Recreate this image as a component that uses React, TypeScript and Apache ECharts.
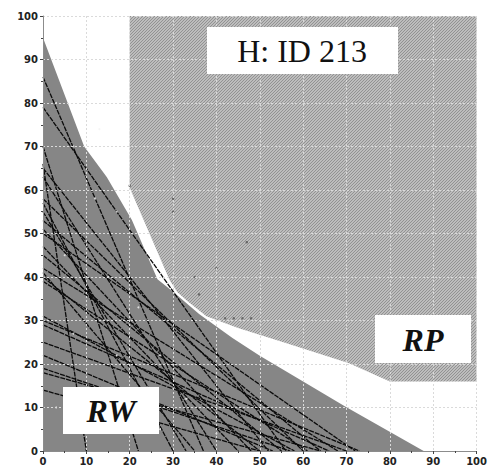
import React, { useEffect, useRef } from "react";
import * as echarts from "echarts";

// tick labels
const tickValues = [0, 10, 20, 30, 40, 50, 60, 70, 80, 90, 100];

// RP region boundary (x, y)
const rpBoundary: [number, number][] = [
  [20, 100], [100, 100], [100, 16], [80, 16], [70.6, 20.2], [56, 24.8],
  [45, 28.3], [37.7, 31], [33.5, 34.3], [31, 36.5], [29.2, 39.3], [20, 60.5],
];

// RW region boundary (x, y)
const rwBoundary: [number, number][] = [
  [0, 0], [0, 95], [9.5, 70], [14.7, 63], [20.5, 53.1], [26.4, 39.5],
  [30, 36.6], [36, 31.5], [43.7, 26], [50, 21.9], [69.9, 10.1], [87.8, 0],
];

// budget lines: [y-intercept, x-intercept]
const budgetLines: [number, number][] = [
  [86, 37], [79, 56], [70, 22], [66, 10], [65, 52], [63, 40], [58, 60],
  [55, 33], [53, 64], [51, 48], [50, 72], [45, 55], [42, 68], [41, 35],
  [40, 50], [39, 61], [31, 58], [30, 73], [29, 66], [25, 70], [22, 53],
  [19, 57], [18, 64], [14, 50], [57, 30], [47, 45],
];

// small dots
const rwDots: [number, number][] = [
  [3, 80], [7, 70], [12, 58], [17, 55], [5, 45], [15, 40], [22, 33], [7, 27],
  [17, 22], [27, 22], [3, 10], [12, 8], [27, 5], [33, 12], [40, 4], [13, 74],
];
const rpDots: [number, number][] = [
  [30, 58], [30, 55], [30, 50], [35, 40], [40, 42], [47, 48], [36, 36],
  [42, 30.5], [44, 30.5], [46, 30.5], [48, 30.5], [20, 61],
];

function makePattern() {
  const n = 3;
  const c = document.createElement("canvas");
  c.width = n;
  c.height = n;
  const ctx = c.getContext("2d")!;
  ctx.fillStyle = "#bdbdbd";
  ctx.fillRect(0, 0, n, n);
  ctx.fillStyle = "#929292";
  for (let y = 0; y < n; y++) {
    const x = (n - 1 - y + n) % n;
    ctx.fillRect(x, y, 1, 1);
  }
  return { image: c, repeat: "repeat", imageWidth: n, imageHeight: n };
}

export default function App() {
  const ref = useRef<HTMLDivElement>(null);
  useEffect(() => {
    const chart = echarts.init(ref.current!, null, { renderer: "svg" });
    const pattern = makePattern();
    const axisCommon = {
      type: "value",
      min: 0,
      max: 100,
      interval: 10,
      z: 5,
      axisLine: { show: true, onZero: false, lineStyle: { color: "#8c8c8c", width: 1 } },
      axisTick: { show: true, length: 3, lineStyle: { color: "#444" } },
      minorTick: { show: true, splitNumber: 2, length: 2, lineStyle: { color: "#444" } },
      axisLabel: {
        fontFamily: "DejaVu Sans",
        fontWeight: "bold",
        fontSize: 10,
        color: "#222",
        margin: 5,
        formatter: (v: number) => (tickValues.includes(v) ? String(v) : ""),
      },
      splitLine: { show: true, lineStyle: { color: "#dadada", type: [2, 2], width: 1 } },
    };
    const box = (x: number, y: number, w: number, h: number) => ({
      type: "rect",
      z: 100,
      shape: { x, y, width: w, height: h },
      style: { fill: "#ffffff" },
    });
    const label = (x: number, y: number, text: string, italicBold: boolean) => ({
      type: "text",
      z: 101,
      x,
      y,
      style: {
        text,
        fontSize: 32,
        fontFamily: "Liberation Serif",
        fontStyle: italicBold ? "italic" : "normal",
        fontWeight: italicBold ? "bold" : "normal",
        fill: "#111",
        align: "center",
        verticalAlign: "middle",
      },
    });
    chart.setOption({
      animation: false,
      grid: { left: 43, top: 16, right: 12, bottom: 20 },
      xAxis: { ...axisCommon },
      yAxis: { ...axisCommon },
      series: [
        {
          type: "custom",
          silent: true,
          z: 1,
          data: [[0, 0]],
          renderItem: (_p: any, api: any) => ({
            type: "group",
            children: [
              {
                type: "polygon",
                shape: { points: rpBoundary.map((p) => api.coord(p)) },
                style: { fill: pattern as any },
              },
              {
                type: "polygon",
                shape: { points: rwBoundary.map((p) => api.coord(p)) },
                style: { fill: "#868686" },
              },
            ],
          }),
        },
        {
          type: "custom",
          silent: true,
          z: 2,
          data: budgetLines.map((b) => [b[1], b[0]]),
          renderItem: (_p: any, api: any) => {
            const xi = api.value(0);
            const yi = api.value(1);
            const a = api.coord([0, yi]);
            const b = api.coord([xi, 0]);
            return {
              type: "line",
              shape: { x1: a[0], y1: a[1], x2: b[0], y2: b[1] },
              style: { stroke: "#0a0a0a", lineWidth: 1.3, lineDash: [5, 1] },
            };
          },
        },
        {
          type: "scatter",
          silent: true,
          z: 3,
          symbolSize: 2,
          itemStyle: { color: "#f2f2f2" },
          data: rwDots,
        },
        {
          type: "scatter",
          silent: true,
          z: 3,
          symbolSize: 2.5,
          itemStyle: { color: "#555" },
          data: rpDots,
        },
      ],
      graphic: {
        elements: [
          box(207, 27, 191, 47),
          label(302, 51, "H: ID 213", false),
          box(375, 315, 96, 48),
          label(423, 340, "RP", true),
          box(63, 387, 96, 47),
          label(111, 411, "RW", true),
        ],
      },
    });
    return () => chart.dispose();
  }, []);
  return (
    <div
      ref={ref}
      style={{ position: "fixed", left: 0, top: 0, width: 490, height: 471, background: "#fff" }}
    />
  );
}
